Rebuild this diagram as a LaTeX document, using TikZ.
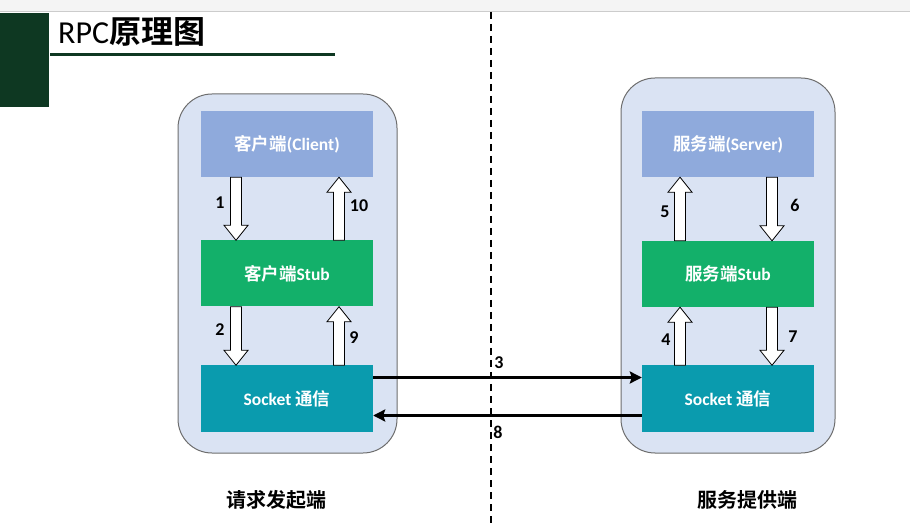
\documentclass[tikz,border=0pt]{standalone}
\usepackage{fontspec}
\setmainfont{Carlito}
\newfontfamily\cjk{Noto Sans CJK SC}[BoldFont={Noto Sans CJK SC Bold}]
\usetikzlibrary{calc,arrows.meta}
\definecolor{contfill}{HTML}{DAE3F3}
\definecolor{contdraw}{HTML}{6E6E6E}
\definecolor{clifill}{HTML}{8FAADC}
\definecolor{stubfill}{HTML}{13B06A}
\definecolor{sockfill}{HTML}{0A9BAE}
\definecolor{darkgreen}{HTML}{0E3822}
\definecolor{topband}{HTML}{F4F4F4}
\tikzset{
  container/.style={draw=contdraw, line width=1pt, fill=contfill, rounded corners=34pt},
  layerbox/.style={minimum width=172pt, minimum height=66pt, inner sep=0pt, text=white, font=\bfseries\fontsize{17.5}{20}\selectfont},
  hollow/.style={draw=black, line width=0.8pt, fill=white, line join=miter},
  numlabel/.style={font=\bfseries\fontsize{18}{20}\selectfont, inner sep=0pt},
  sidelabel/.style={font=\cjk\bfseries\fontsize{20}{22}\selectfont, inner sep=0pt},
  netarrow/.style={line width=2.6pt, -{Stealth[length=12pt,width=12pt,inset=2pt]}},
}
\newcommand\hollowarrow[2]{%
  \coordinate (hh) at ($(#2)!15pt!(#1)$);
  \draw[hollow] ($(#1)!5.5pt!90:(#2)$) -- ($(hh)!5.5pt!90:(#2)$) -- ($(hh)!12pt!90:(#2)$)
    -- (#2) -- ($(hh)!12pt!-90:(#2)$) -- ($(hh)!5.5pt!-90:(#2)$) -- ($(#1)!5.5pt!-90:(#2)$) -- cycle;
}
\begin{document}
\begin{tikzpicture}[x=1pt,y=-1pt]
\useasboundingbox (0,0) rectangle (910,526);
\fill[white] (0,0) rectangle (910,526);
% top band
\fill[topband] (0,0) rectangle (910,11);
\draw[gray!40, line width=0.8pt] (0,11.5) -- (910,11.5);
% title block
\fill[darkgreen] (0,13) rectangle (49,107);
\node[anchor=base west, inner sep=0pt, font=\fontsize{32}{34}\selectfont] (title) at (58,44) {RPC{\cjk\bfseries 原理图}};
\draw[darkgreen, line width=3pt] (50,55) -- (335,55);
% dashed divider
\draw[line width=1.5pt, dash pattern=on 7pt off 5pt] (491,12) -- (491,526);
% containers
\draw[container] (178,94) rectangle (397,453);
\draw[container] (621,78) rectangle (835,453);
% left boxes
\node[layerbox, fill=clifill] (cli) at (287,144) {{\cjk 客户端}(Client)};
\node[layerbox, fill=stubfill] (cstub) at (287,273.5) {{\cjk 客户端}Stub};
\node[layerbox, fill=sockfill] (lsock) at (287,398.5) {Socket {\cjk 通信}};
% right boxes
\node[layerbox, fill=clifill] (srv) at (728,144) {{\cjk 服务端}(Server)};
\node[layerbox, fill=stubfill] (sstub) at (728,274) {{\cjk 服务端}Stub};
\node[layerbox, fill=sockfill] (rsock) at (728,398.5) {Socket {\cjk 通信}};
% left hollow arrows
\coordinate (a1s) at ($(cli.south)+(-51,0)$);
\coordinate (a1e) at ($(cstub.north)+(-51,0)$);
\coordinate (a10s) at ($(cstub.north)+(52,0)$);
\coordinate (a10e) at ($(cli.south)+(52,0)$);
\coordinate (a2s) at ($(cstub.south)+(-51,0)$);
\coordinate (a2e) at ($(lsock.north)+(-51,0)$);
\coordinate (a9s) at ($(lsock.north)+(52,0)$);
\coordinate (a9e) at ($(cstub.south)+(52,0)$);
\hollowarrow{a1s}{a1e}
\hollowarrow{a10s}{a10e}
\hollowarrow{a2s}{a2e}
\hollowarrow{a9s}{a9e}
% right hollow arrows
\coordinate (a5s) at ($(sstub.north)+(-48,0)$);
\coordinate (a5e) at ($(srv.south)+(-48,0)$);
\coordinate (a6s) at ($(srv.south)+(44,0)$);
\coordinate (a6e) at ($(sstub.north)+(44,0)$);
\coordinate (a4s) at ($(rsock.north)+(-48,0)$);
\coordinate (a4e) at ($(sstub.south)+(-48,0)$);
\coordinate (a7s) at ($(sstub.south)+(44,0)$);
\coordinate (a7e) at ($(rsock.north)+(44,0)$);
\hollowarrow{a5s}{a5e}
\hollowarrow{a6s}{a6e}
\hollowarrow{a4s}{a4e}
\hollowarrow{a7s}{a7e}
% number labels
\node[numlabel] (n1) at (220,203) {1};
\node[numlabel] (n10) at (359,206) {10};
\node[numlabel] (n2) at (220,330) {2};
\node[numlabel] (n9) at (354,338) {9};
\node[numlabel] (n5) at (665,212) {5};
\node[numlabel] (n6) at (795,205) {6};
\node[numlabel] (n4) at (666,340) {4};
\node[numlabel] (n7) at (793,337) {7};
% network arrows
\draw[netarrow] ($(lsock.east)+(0,-21)$) -- ($(rsock.west)+(0,-21)$);
\draw[netarrow] ($(rsock.west)+(0,17)$) -- ($(lsock.east)+(0,17)$);
\node[numlabel] (n3) at (499,363) {3};
\node[numlabel] (n8) at (498,432) {8};
% side labels
\node[sidelabel] (lside) at (276,500) {请求发起端};
\node[sidelabel] (rside) at (747,500) {服务提供端};
\end{tikzpicture}
\end{document}
